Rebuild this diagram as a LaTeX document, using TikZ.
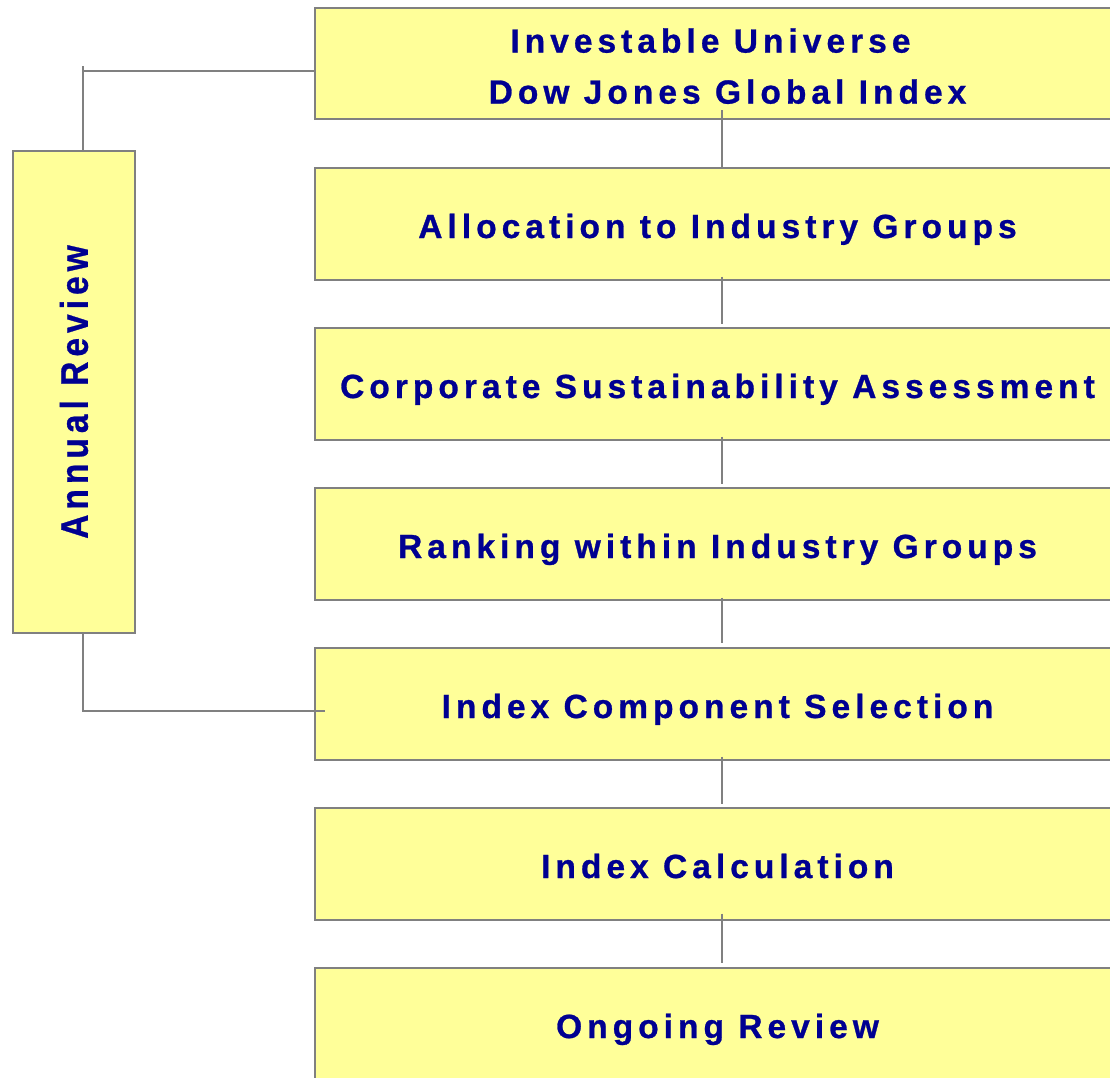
\documentclass[tikz,border=0pt]{standalone}
\usepackage{fontspec}
\usepackage{graphicx}
\newfontfamily\boxfont{Liberation Sans}[LetterSpace=15, BoldFeatures={FakeBold=0.8}]
\definecolor{boxfill}{RGB}{255,255,153}
\definecolor{boxline}{RGB}{128,128,128}
\definecolor{boxtext}{RGB}{0,0,145}
\tikzset{
  stepbox/.style={draw=boxline, line width=2pt, fill=boxfill, rectangle,
    minimum width=805pt, minimum height=112pt, inner sep=0pt,
    text=boxtext, font=\boxfont\bfseries\fontsize{33.5}{51}\selectfont,
    text height=29pt, text depth=0pt},
  sidebox/.style={draw=boxline, line width=2pt, fill=boxfill, rectangle,
    minimum width=122pt, minimum height=482pt, inner sep=0pt,
    text=boxtext, font=\boxfont\bfseries\fontsize{33.5}{51}\selectfont},
  conn/.style={draw=boxline, line width=2pt}
}
\begin{document}
\begin{tikzpicture}[x=1pt,y=-1pt]
\useasboundingbox (0,0) rectangle (1110,1077);
\clip (0,0) rectangle (1110,1077);
\node[stepbox, minimum height=111pt, align=center, text height=80.2pt] (b1) at (717.5,63.5) {Investable Universe\hspace*{14pt}\\\hspace*{20pt}Dow Jones Global Index};
\node[stepbox] (b2) at (717.5,223.5) {Allocation to Industry Groups};
\node[stepbox] (b3) at (717.5,383.5) {Corporate Sustainability Assessment};
\node[stepbox] (b4) at (717.5,543.5) {Ranking within Industry Groups};
\node[stepbox] (b5) at (717.5,703.5) {Index Component Selection};
\node[stepbox] (b6) at (717.5,863.5) {Index Calculation};
\node[stepbox] (b7) at (717.5,1023.5) {Ongoing Review};
\node[sidebox] (ar) at (74,392) {\rotatebox{90}{\scalebox{1}[1.15]{Annual Review}}};
% vertical connectors
\draw[conn] ([xshift=4.5pt,yshift=10pt]b1.south) -- ([xshift=4.5pt]b2.north);
\draw[conn] ([xshift=4.5pt,yshift=4pt]b2.south) -- ([xshift=4.5pt,yshift=3pt]b3.north);
\draw[conn] ([xshift=4.5pt,yshift=4pt]b3.south) -- ([xshift=4.5pt,yshift=3pt]b4.north);
\draw[conn] ([xshift=4.5pt,yshift=3pt]b4.south) -- ([xshift=4.5pt,yshift=4pt]b5.north);
\draw[conn] ([xshift=4.5pt,yshift=4pt]b5.south) -- ([xshift=4.5pt,yshift=3pt]b6.north);
\draw[conn] ([xshift=4.5pt,yshift=7pt]b6.south) -- ([xshift=4.5pt,yshift=4pt]b7.north);
% annual review loop
\coordinate (tc) at ([xshift=9pt]ar.north |- 0,71);
\draw[conn] ([xshift=9pt]ar.north) -- ([yshift=5pt]tc);
\draw[conn] (tc) -- (tc -| b1.west);
\draw[conn] ([xshift=9pt]ar.south) |- ([xshift=11pt,yshift=-7.5pt]b5.west);
\end{tikzpicture}
\end{document}
